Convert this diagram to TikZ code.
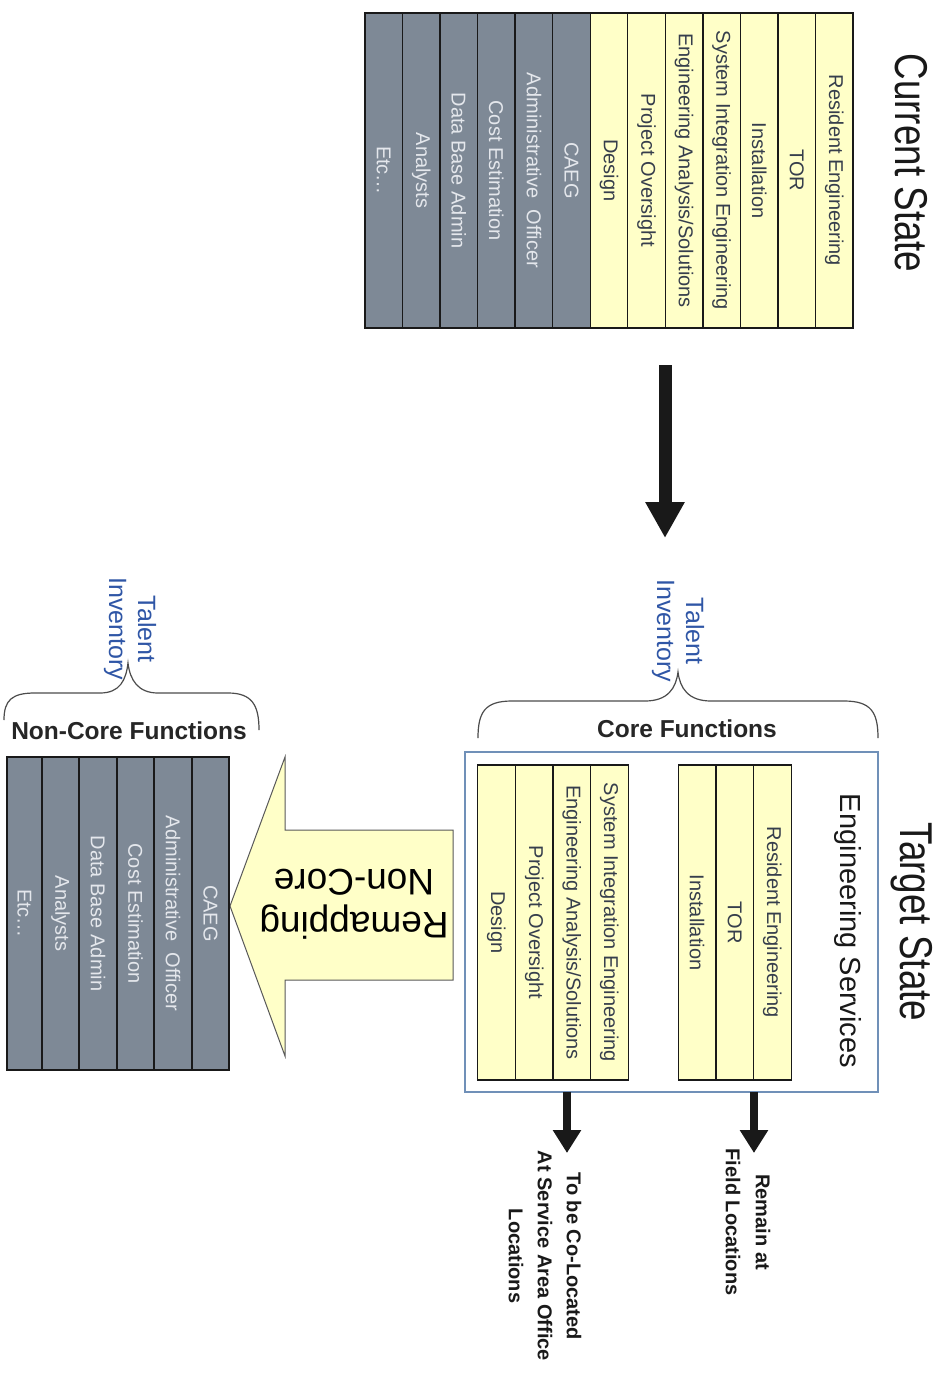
\documentclass[tikz,border=0pt]{standalone}
\usepackage{fontspec}
\setmainfont{Liberation Sans}
\usetikzlibrary{arrows.meta}
\definecolor{cellyellow}{HTML}{FFFFC8}
\definecolor{cellgray}{HTML}{7E8996}
\definecolor{graytext}{HTML}{E4E7EC}
\definecolor{yeltext}{HTML}{363E4C}
\definecolor{tiblue}{HTML}{2F56A6}
\definecolor{boxblue}{HTML}{7090B8}
\begin{document}
\begin{tikzpicture}[x=1pt,y=-1pt,
  cellbase/.style={draw=black!90, line width=1.3pt, inner sep=0pt, rotate=-90, minimum height=37.5pt, font=\fontsize{20}{24}\selectfont},
  ycell/.style={cellbase, fill=cellyellow, text=yeltext, minimum width=315pt},
  gcell/.style={cellbase, fill=cellgray, text=graytext, minimum width=315pt},
  ncell/.style={gcell, minimum width=313pt},
  titletext/.style={rotate=-90, inner sep=0pt, anchor=base, font=\fontsize{46}{50}\selectfont, text=black!90},
  rottext/.style={rotate=-90, inner sep=0pt},
  titext/.style={rotate=-90, inner sep=0pt, align=center, text=tiblue, font=\fontsize{25}{29}\selectfont},
  fntext/.style={inner sep=0pt, font=\bfseries\fontsize{24.5}{28}\selectfont, text=black!85},
  loctext/.style={rotate=-90, inner sep=0pt, align=center, text=black!90},
  bracepath/.style={draw=black!70, line width=1.2pt},
  bigarrow/.style={line width=13pt, draw=black!90, -{Triangle[width=37pt,length=36pt]}},
  smallarrow/.style={line width=8pt, draw=black!90, -{Triangle[width=27pt,length=23pt]}}
]
\useasboundingbox (0,0) rectangle (945,1374);
\fill[white] (0,0) rectangle (945,1374);

% ---------- Current state ----------
\foreach \t [count=\i] in {Resident Engineering,TOR,Installation,System Integration Engineering,Engineering Analysis/Solutions,Project Oversight,Design}
  \node[ycell] (cur\i) at ({853-37.54*(\i-0.5)},170.5) {\t};
\foreach \t [count=\i from 8] in {CAEG,Administrative\ \ Officer,Cost Estimation,Data Base Admin,Analysts,{Etc\ldots}}
  \node[gcell] (cur\i) at ({853-37.54*(\i-0.5)},170.5) {\t};
\node[titletext] (curtitle) at (895,163) {\scalebox{0.8}[1]{Current State}};

% ---------- transition arrow ----------
\coordinate (da1) at (665,365);
\coordinate (da2) at (665,538);
\draw[bigarrow] (da1) -- (da2);

% ---------- Target state ----------
\node[draw=boxblue, fill=white, line width=1.2pt, minimum width=413pt, minimum height=340pt, inner sep=0pt] (tbox) at (671.5,922) {};
\node[titletext] (tgttitle) at (900,922) {\scalebox{0.8}[1]{Target State}};
\node[rottext, anchor=base, font=\fontsize{29}{32}\selectfont, text=black!90] (engserv) at (840,931) {Engineering Services};

\node[ycell, minimum height=37.7pt] (tg1) at (772.3,922.5) {Resident Engineering};
\node[ycell, minimum height=37.7pt] (tg2) at (734.7,922.5) {TOR};
\node[ycell, minimum height=37.7pt] (tg3) at (697.0,922.5) {Installation};
\node[ycell, minimum height=37.7pt] (tg4) at (609.4,922.5) {System Integration Engineering};
\node[ycell, minimum height=37.7pt] (tg5) at (571.9,922.5) {Engineering Analysis/Solutions};
\node[ycell, minimum height=37.7pt] (tg6) at (534.2,922.5) {Project Oversight};
\node[ycell, minimum height=37.7pt] (tg7) at (496.4,922.5) {Design};

\node[fntext] (corefn) at (687,729) {Core Functions};
\draw[bracepath] (478,738) .. controls (478,712) and (485,701) .. (512,701) -- (645,701) .. controls (668,701) and (676,688) .. (678,672)
                 .. controls (680,688) and (688,701) .. (711,701) -- (844,701) .. controls (871,701) and (878,712) .. (878,738);
\node[titext] (ti1) at (678,631) {Talent\\Inventory};

% location arrows
\coordinate (ra1) at (754,1092);
\coordinate (ra2) at (754,1153);
\coordinate (ca1) at (567,1092);
\coordinate (ca2) at (567,1153);
\draw[smallarrow] (ra1) -- (ra2);
\draw[smallarrow] (ca1) -- (ca2);
\node[loctext, font=\bfseries\fontsize{20}{30}\selectfont] (remain) at (748,1222) {Remain at\\Field Locations};
\node[loctext, font=\bfseries\fontsize{20}{29}\selectfont] (coloc) at (545,1256) {To be Co-Located\\At Service Area Office\\Locations};

% ---------- Remapping arrow ----------
\draw[fill=cellyellow, draw=black!65, line width=1pt] (453,830) -- (285,830) -- (285,757) -- (230,906) -- (285,1056) -- (285,980) -- (453,980) -- cycle;
\node[rotate=180, inner sep=0pt, align=center, font=\fontsize{37}{43}\selectfont, text=black] (remap) at (354,904) {Remapping\\Non-Core};

% ---------- Non-core functions ----------
\node[ncell, minimum height=37pt] (nc1) at (210.5,913.5) {CAEG};
\node[ncell, minimum height=38pt] (nc2) at (173,913.5) {Administrative\ \ Officer};
\node[ncell, minimum height=37pt] (nc3) at (135.5,913.5) {Cost Estimation};
\node[ncell, minimum height=38pt] (nc4) at (98,913.5) {Data Base Admin};
\node[ncell, minimum height=37pt] (nc5) at (60.5,913.5) {Analysts};
\node[ncell, minimum height=35pt] (nc6) at (24.5,913.5) {Etc\ldots};

\node[fntext] (noncorefn) at (129,731) {Non-Core Functions};
\draw[bracepath] (4,720) .. controls (4,700) and (12,693) .. (35,693) -- (100,693) .. controls (120,693) and (126,680) .. (128,663)
                 .. controls (130,680) and (138,693) .. (158,693) -- (228,693) .. controls (252,693) and (259,705) .. (259,730);
\node[titext] (ti2) at (130,629) {Talent\\Inventory};
\end{tikzpicture}
\end{document}
